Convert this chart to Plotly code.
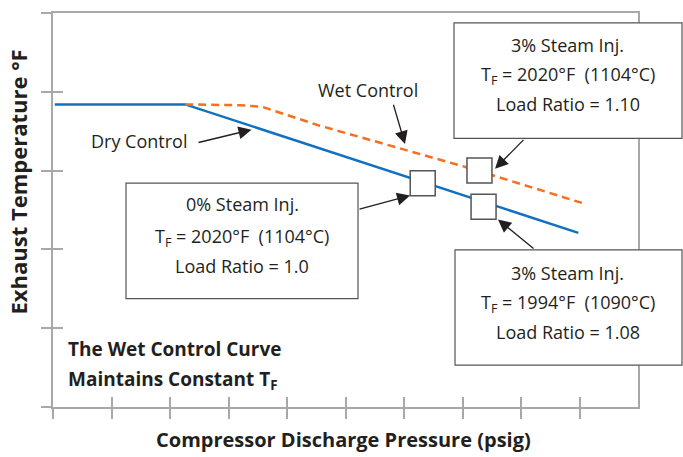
import plotly.graph_objects as go

# curves (x: pressure, y: exhaust temperature, arbitrary units)
dry_x = [0.03, 2.26, 8.98]
dry_y = [3.84, 3.84, 2.21]
wet_x = [2.26, 3.2, 3.57, 4.0, 4.56, 7.08, 9.04]
wet_y = [3.84, 3.83, 3.81, 3.71, 3.57, 3.04, 2.59]

# operating points (0% steam, 3% steam wet, 3% steam dry)
pt_x = [6.32, 7.29, 7.36]
pt_y = [2.84, 3.00, 2.54]

x_ticks = list(range(0, 10))
y_ticks = list(range(0, 6))

SUB_F = "<sub>F</sub>"
box_text = [
    ["0% Steam Inj.", "T" + SUB_F + " = 2020°F \u00a0(1104°C)", "Load Ratio = 1.0"],
    ["3% Steam Inj.", "T" + SUB_F + " = 2020°F \u00a0(1104°C)", "Load Ratio = 1.10"],
    ["3% Steam Inj.", "T" + SUB_F + " = 1994°F \u00a0(1090°C)", "Load Ratio = 1.08"],
]
note_text = ["The Wet Control Curve", "Maintains Constant T<sub>F</sub>"]

GRAY = "#a8a8a8"
INK = "#231f20"
FONT = "Open Sans"

fig = go.Figure()
fig.add_trace(go.Scatter(x=dry_x, y=dry_y, mode="lines",
                         line=dict(color="#1170c0", width=2.5), showlegend=False))
fig.add_trace(go.Scatter(x=wet_x, y=wet_y, mode="lines",
                         line=dict(color="#f36f21", width=2.5, dash="8px,5px"), showlegend=False))
fig.add_trace(go.Scatter(x=pt_x, y=pt_y, mode="markers",
                         marker=dict(symbol="square", size=25, color="white",
                                     line=dict(color="#555555", width=1.5)),
                         showlegend=False))
# dummy trace so the overlay axes (inner tick halves) get drawn
fig.add_trace(go.Scatter(x=[None], y=[None], xaxis="x2", yaxis="y2", showlegend=False))

# boxes around the callouts (paper coords, they run past the right edge)
boxes = [(0.1248, 0.5214, 0.2753, 0.5682),
         (0.6855, 1.0752, 0.6818, 0.9747),
         (0.6872, 1.0752, 0.1061, 0.3990)]
for x0, x1, y0, y1 in boxes:
    fig.add_shape(type="rect", xref="paper", yref="paper", x0=x0, x1=x1, y0=y0, y1=y1,
                  line=dict(color="#555555", width=1.2), fillcolor="white", layer="above")

# callout text lines
box_cx = [0.3231, 0.8803, 0.8803]
box_ly = [[0.5152, 0.4293, 0.3586],
          [0.9192, 0.8409, 0.7702],
          [0.3409, 0.2626, 0.1894]]
for lines, cx, ys in zip(box_text, box_cx, box_ly):
    for t, yy in zip(lines, ys):
        fig.add_annotation(x=cx, y=yy, xref="paper", yref="paper", text=t, showarrow=False,
                           xanchor="center", yanchor="middle",
                           font=dict(family=FONT, size=18, color=INK))

# curve labels
fig.add_annotation(x=1.47, y=3.371, text="Dry Control", showarrow=False,
                   font=dict(family=FONT, size=18, color=INK))
fig.add_annotation(x=5.385, y=4.028, text="Wet Control", showarrow=False,
                   font=dict(family=FONT, size=18, color=INK))

# arrows: (tail x, tail y, tip x, tip y)
arrows = [(2.462, 3.352, 3.393, 3.519),
          (5.812, 3.855, 6.017, 3.337),
          (5.214, 2.506, 6.103, 2.683),
          (8.068, 3.409, 7.556, 3.024),
          (8.239, 1.995, 7.607, 2.380)]
for ax_, ay_, x_, y_ in arrows:
    fig.add_annotation(x=x_, y=y_, ax=ax_, ay=ay_, xref="x", yref="y", axref="x", ayref="y",
                       text="", showarrow=True, arrowhead=2, arrowsize=2, arrowwidth=1.3,
                       arrowcolor=INK)

# bold note bottom-left
for t, yy in zip(note_text, [0.1465, 0.0682]):
    fig.add_annotation(x=0.0222, y=yy, xref="paper", yref="paper", text="<b>" + t + "</b>",
                       showarrow=False, xanchor="left", yanchor="middle",
                       font=dict(family=FONT, size=19, color=INK))

# axis titles
fig.add_annotation(x=-0.06, y=0.572, xref="paper", yref="paper",
                   text="<b>Exhaust Temperature °F</b>", textangle=-90, showarrow=False,
                   xanchor="center", yanchor="middle",
                   font=dict(family=FONT, size=22, color=INK))
fig.add_annotation(x=0.497, y=-0.083, xref="paper", yref="paper",
                   text="<b>Compressor Discharge Pressure (psig)</b>", showarrow=False,
                   xanchor="center", yanchor="middle",
                   font=dict(family=FONT, size=20, color=INK))

axis_common = dict(showgrid=False, zeroline=False, showticklabels=False,
                   tickcolor=GRAY, tickwidth=1.5, ticklen=10)
fig.update_layout(
    width=683, height=457,
    margin=dict(l=53, r=45, t=11, b=50),
    paper_bgcolor="white", plot_bgcolor="white",
    showlegend=False,
    xaxis=dict(range=[0, 10], tickvals=x_ticks, ticks="outside", showline=True,
               linecolor=GRAY, linewidth=1.5, mirror=True, **axis_common),
    yaxis=dict(range=[0, 5], tickvals=y_ticks, ticks="outside", showline=True,
               linecolor=GRAY, linewidth=1.5, mirror=True, **axis_common),
    xaxis2=dict(range=[0, 10], tickvals=x_ticks, ticks="inside", overlaying="x",
                showline=False, **axis_common),
    yaxis2=dict(range=[0, 5], tickvals=y_ticks, ticks="inside", overlaying="y",
                showline=False, **axis_common),
)

# drop the default page margin so the figure sits at the window's top-left corner
fig.write_html("out.html", config={"displayModeBar": False},
               post_script="document.body.style.margin='0';")
